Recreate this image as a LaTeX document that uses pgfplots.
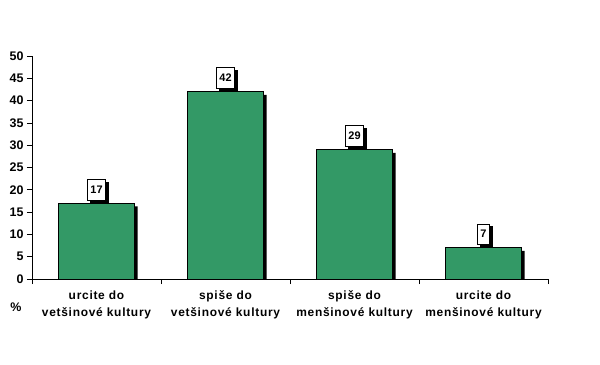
\documentclass[border=0pt]{standalone}
\usepackage{pgfplots}
\pgfplotsset{compat=1.18}
\usepackage{fontspec}
\setmainfont{Liberation Sans}
\usetikzlibrary{shadows}
\definecolor{barg}{RGB}{51,153,102}
\begin{document}
\begin{tikzpicture}[x=1bp,y=1bp]
\path[use as bounding box, fill=white] (0,0) rectangle (600,364);
\begin{axis}[
  at={(32bp,85bp)}, anchor=south west,
  scale only axis, width=516bp, height=223bp,
  xmin=-0.5, xmax=3.5, ymin=0, ymax=50,
  axis lines*=left,
  axis line style={black, line width=0.8bp},
  ybar,
  tick align=outside,
  major tick length=5bp, minor tick length=5bp,
  ytick={0,5,...,50},
  xtick={0,1,2,3},
  minor xtick={-0.5,0.5,1.5,2.5,3.5},
  major x tick style={draw=none},
  minor x tick style={black, line width=0.8bp},
  y tick style={black, line width=0.8bp},
  xticklabels={urcite do\\vetšinové kultury, spiše do\\vetšinové kultury, spiše do\\menšinové kultury, urcite do\\menšinové kultury},
  x tick label style={align=center, font=\bfseries\fontsize{12}{17}\selectfont\addfontfeature{LetterSpace=6}, yshift=-3bp},
  y tick label style={font=\bfseries\fontsize{12.5}{12.5}\selectfont},
  /pgf/number format/assume math mode=true,
  clip=false,
]
\addplot[fill=black, draw=none, bar shift=3bp, bar width=76bp] coordinates {(0,16.3) (1,41.3) (2,28.3) (3,6.3)};
\addplot[fill=barg, draw=black, line width=0.6bp, bar shift=0bp, bar width=76bp,
  nodes near coords,
  nodes near coords style={font=\bfseries\fontsize{11}{11}\selectfont, draw=black, line width=0.6bp, fill=white,
    inner xsep=3bp, inner ysep=6.5bp, anchor=south, yshift=3bp,
    drop shadow={shadow xshift=2.5bp, shadow yshift=-2.5bp, fill=black, opacity=1}},
  ] coordinates {(0,17) (1,42) (2,29) (3,7)};
\end{axis}
\node[font=\bfseries\fontsize{12.5}{12.5}\selectfont] at (16,57) {\%};
\end{tikzpicture}
\end{document}
